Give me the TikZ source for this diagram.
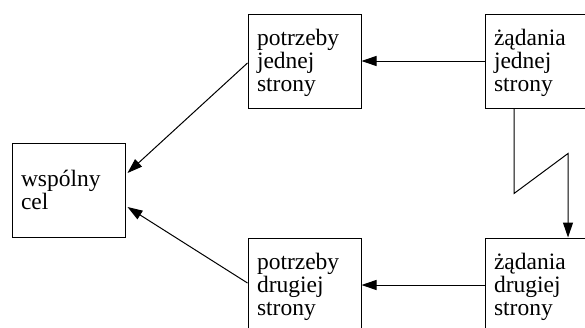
\documentclass[tikz,border=0pt]{standalone}
\usepackage{fontspec}
\setmainfont{Liberation Serif}
\usetikzlibrary{arrows.meta}
\begin{document}
\begin{tikzpicture}[x=1pt,y=-1pt,
  box/.style={draw, line width=1pt, minimum width=113pt, minimum height=94pt,
    text width=95pt, inner xsep=9pt, align=left,
    font=\fontsize{23.5}{23}\selectfont},
  conn/.style={line width=1pt, -{Triangle[length=15pt,width=10pt]}}]
\useasboundingbox (0,0) rectangle (585,327);
\clip (0,0) rectangle (585,327);
\node[box] (wc) at (68.5,190) {wspólny\\cel};
\node[box] (pj) at (304.5,61) {\rule{0pt}{20pt}potrzeby\\jednej\\strony};
\node[box] (zj) at (541.5,61) {\rule{0pt}{20pt}żądania\\jednej\\strony};
\node[box] (pd) at (304.5,285) {\rule{0pt}{20pt}potrzeby\\drugiej\\strony};
\node[box] (zd) at (541.5,285) {\rule{0pt}{20pt}żądania\\drugiej\\strony};
\draw[conn] (zj.west) -- (pj.east);
\draw[conn] (zd.west) -- (pd.east);
\draw[conn] ([yshift=-2pt]pj.west) -- ([xshift=2pt,yshift=17pt]wc.east);
\draw[conn] ([yshift=2pt]pd.west) -- ([xshift=2pt,yshift=-17pt]wc.east);
\draw[conn] ([xshift=-27.5pt]zj.south) -- ++(0,85) -- ++(54,-40) -- ([xshift=26.5pt]zd.north);
\end{tikzpicture}
\end{document}
